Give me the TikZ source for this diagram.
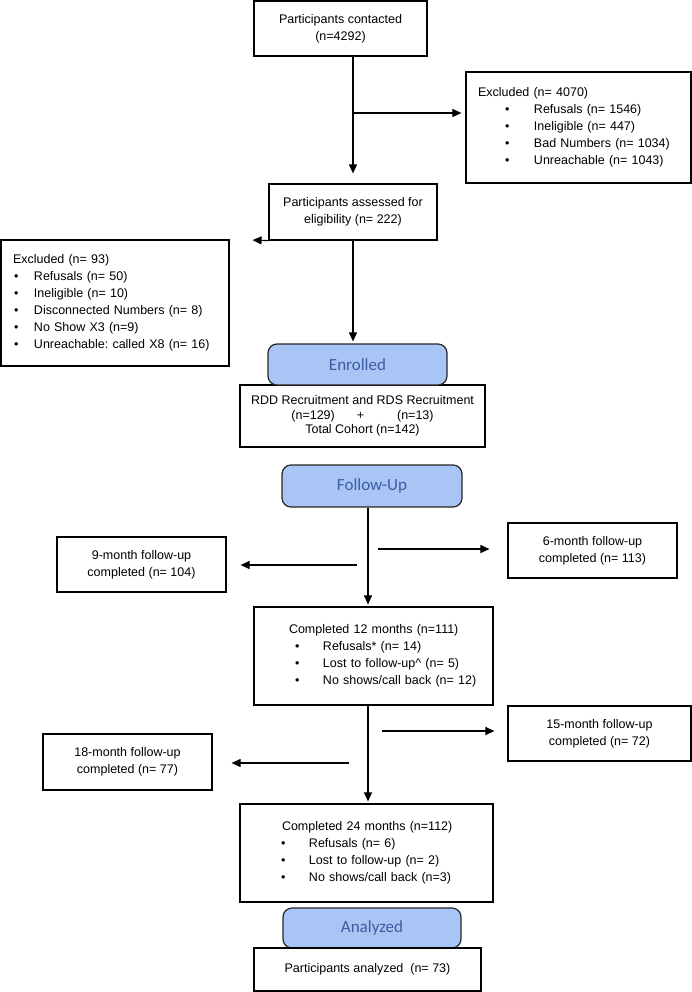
\documentclass[tikz,border=0pt]{standalone}
\usepackage{fontspec}
\setmainfont{Liberation Sans}
\newfontfamily\calibfont{Carlito}
\usetikzlibrary{arrows.meta}
\definecolor{stageblue}{RGB}{169,197,245}
\definecolor{stagetext}{RGB}{62,92,160}
\newcommand{\bitem}[3]{\mbox{\hspace*{#1}\makebox[#2][l]{\textbullet}#3}}
\frenchspacing

\begin{document}
\begin{tikzpicture}[x=1pt, y=-1pt,
    box/.style={draw, line width=1.2pt, align=center, inner sep=0pt, font=\fontsize{12.5}{17}\selectfont},
    listbox/.style={box, align=left},
    stage/.style={draw=black!85, line width=1.2pt, rounded corners=9pt, fill=stageblue, text=stagetext, inner sep=0pt, font=\calibfont\fontsize{17}{20}\selectfont},
    arr/.style={line width=1.1pt, -{Triangle[length=9pt,width=8pt]}}]

\useasboundingbox (0,0) rectangle (692,992);

    % Screening
    \node[box, minimum width=173pt, minimum height=55pt] (contacted) at (340.5,28.5) {Participants contacted\\(n=4292)};
    \node[listbox, text width=201pt, inner xsep=12pt, minimum height=111pt] (excl1) at (578.5,127.5) {\mbox{Excluded (n= 4070)}\\
        \bitem{27pt}{29pt}{Refusals (n= 1546)}\\
        \bitem{27pt}{29pt}{Ineligible (n= 447)}\\
        \bitem{27pt}{29pt}{Bad Numbers (n= 1034)}\\
        \bitem{27pt}{29pt}{Unreachable (n= 1043)}};
    \node[box, minimum width=168pt, minimum height=56pt] (assessed) at (353,212) {Participants assessed for\\eligibility (n= 222)};
    \node[listbox, text width=204pt, inner xsep=12pt, minimum height=126pt] (excl2) at (115,303) {\mbox{Excluded (n= 93)}\\
        \bitem{1pt}{20pt}{Refusals (n= 50)}\\
        \bitem{1pt}{20pt}{Ineligible (n= 10)}\\
        \bitem{1pt}{20pt}{Disconnected Numbers (n= 8)}\\
        \bitem{1pt}{20pt}{No Show X3 (n=9)}\\
        \bitem{1pt}{20pt}{Unreachable: called X8 (n= 16)}};

    % Enrollment
    \node[box, minimum width=245pt, minimum height=62pt, font=\fontsize{12.5}{14.5}\selectfont] (rdd) at (362.5,416) {RDD Recruitment and RDS Recruitment\\(n=129)\hspace{22pt}+\hspace{33pt}(n=13)\\Total Cohort (n=142)};
    \node[stage, minimum width=179pt, minimum height=41pt] (enrolled) at (357.5,364.5) {Enrolled};
    \node[stage, minimum width=180pt, minimum height=42pt] (followup) at (372,486) {Follow-Up};

    % Follow-up waves
    \node[box, minimum width=169pt, minimum height=55pt] (m6) at (592.5,550.5) {6-month follow-up\\completed (n= 113)};
    \node[box, minimum width=169pt, minimum height=55pt] (m9) at (141.5,564.5) {9-month follow-up\\completed (n= 104)};
    \node[listbox, text width=169pt, inner xsep=35pt, minimum height=98pt] (m12) at (373.5,656) {\mbox{Completed 12 months (n=111)}\\
        \bitem{6pt}{28pt}{Refusals* (n= 14)}\\
        \bitem{6pt}{28pt}{Lost to follow-up\textasciicircum{} (n= 5)}\\
        \bitem{6pt}{28pt}{No shows/call back (n= 12)}};
    \node[box, minimum width=183pt, minimum height=55pt] (m15) at (599.5,733.5) {15-month follow-up\\completed (n= 72)};
    \node[box, minimum width=169pt, minimum height=56pt] (m18) at (127.5,762) {18-month follow-up\\completed (n= 77)};
    \node[listbox, text width=169pt, inner xsep=42pt, minimum height=98pt] (m24) at (366.5,853) {\mbox{Completed 24 months (n=112)}\\
        \bitem{-1pt}{28pt}{Refusals (n= 6)}\\
        \bitem{-1pt}{28pt}{Lost to follow-up (n= 2)}\\
        \bitem{-1pt}{28pt}{No shows/call back (n=3)}};

    % Analysis
    \node[stage, minimum width=178pt, minimum height=40pt] (analyzed) at (372,928) {Analyzed};
    \node[box, minimum width=227pt, minimum height=43pt] (final) at (367.5,969.5) {Participants analyzed\ \ (n= 73)};

    % Arrows
    \coordinate (br1) at (353,113);
    \coordinate (s6) at (378,549);
    \coordinate (s9) at (357,565);
    \coordinate (s15) at (382,731);
    \coordinate (s18) at (349,763);
    \draw[arr, shorten >=10pt] (contacted.south -| assessed.north) -- (assessed.north);
    \draw[arr, shorten >=4pt] (br1) -- (br1 -| excl1.west);
    \draw[arr, shorten >=23pt] (assessed.south west) -- (excl2.north east);
    \draw[arr, shorten >=2pt] (assessed.south) -- (assessed.south |- enrolled.north);
    \draw[arr, shorten >=2pt] ([xshift=-4pt]followup.south) -- ([xshift=-4pt]followup.south |- m12.north);
    \draw[arr, shorten >=18pt] (s6) -- (s6 -| m6.west);
    \draw[arr, shorten >=14pt] (s9) -- (s9 -| m9.east);
    \draw[arr, shorten >=2pt] ([xshift=-5.5pt]m12.south) -- ([xshift=-5.5pt]m12.south |- m24.north);
    \draw[arr, shorten >=13pt] (s15) -- (s15 -| m15.west);
    \draw[arr, shorten >=19pt] (s18) -- (s18 -| m18.east);
\end{tikzpicture}
\end{document}
